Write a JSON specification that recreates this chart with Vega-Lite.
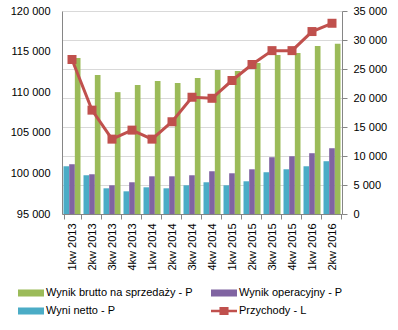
{
  "$schema": "https://vega.github.io/schema/vega-lite/v6.json",
  "width": 280,
  "height": 203,
  "autosize": {"type": "none"},
  "padding": {"left": 62, "top": 11, "right": 56, "bottom": 116},
  "background": "white",
  "config": {
    "font": "Liberation Sans",
    "view": {"stroke": null},
    "axis": {"labelFont": "Liberation Sans", "labelFontSize": 11, "labelColor": "#000000", "domainColor": "#868686", "tickColor": "#868686", "titleFontSize": 11}
  },
  "data": {
    "values": [
      {"q": "1kw 2013", "s": "Wyni netto - P", "v": 8230},
      {"q": "1kw 2013", "s": "Wynik operacyjny - P", "v": 8580},
      {"q": "1kw 2013", "s": "Wynik brutto na sprzedaży - P", "v": 26880},
      {"q": "1kw 2013", "s": "Przychody - L", "v": 114030},
      {"q": "2kw 2013", "s": "Wyni netto - P", "v": 6680},
      {"q": "2kw 2013", "s": "Wynik operacyjny - P", "v": 6850},
      {"q": "2kw 2013", "s": "Wynik brutto na sprzedaży - P", "v": 23950},
      {"q": "2kw 2013", "s": "Przychody - L", "v": 107790},
      {"q": "3kw 2013", "s": "Wyni netto - P", "v": 4430},
      {"q": "3kw 2013", "s": "Wynik operacyjny - P", "v": 4950},
      {"q": "3kw 2013", "s": "Wynik brutto na sprzedaży - P", "v": 21010},
      {"q": "3kw 2013", "s": "Przychody - L", "v": 104220},
      {"q": "4kw 2013", "s": "Wyni netto - P", "v": 3910},
      {"q": "4kw 2013", "s": "Wynik operacyjny - P", "v": 5470},
      {"q": "4kw 2013", "s": "Wynik brutto na sprzedaży - P", "v": 22220},
      {"q": "4kw 2013", "s": "Przychody - L", "v": 105330},
      {"q": "1kw 2014", "s": "Wyni netto - P", "v": 4600},
      {"q": "1kw 2014", "s": "Wynik operacyjny - P", "v": 6500},
      {"q": "1kw 2014", "s": "Wynik brutto na sprzedaży - P", "v": 22910},
      {"q": "1kw 2014", "s": "Przychody - L", "v": 104220},
      {"q": "2kw 2014", "s": "Wyni netto - P", "v": 4430},
      {"q": "2kw 2014", "s": "Wynik operacyjny - P", "v": 6500},
      {"q": "2kw 2014", "s": "Wynik brutto na sprzedaży - P", "v": 22570},
      {"q": "2kw 2014", "s": "Przychody - L", "v": 106360},
      {"q": "3kw 2014", "s": "Wyni netto - P", "v": 4950},
      {"q": "3kw 2014", "s": "Wynik operacyjny - P", "v": 6680},
      {"q": "3kw 2014", "s": "Wynik brutto na sprzedaży - P", "v": 23430},
      {"q": "3kw 2014", "s": "Przychody - L", "v": 109380},
      {"q": "4kw 2014", "s": "Wyni netto - P", "v": 5470},
      {"q": "4kw 2014", "s": "Wynik operacyjny - P", "v": 7370},
      {"q": "4kw 2014", "s": "Wynik brutto na sprzedaży - P", "v": 24810},
      {"q": "4kw 2014", "s": "Przychody - L", "v": 109250},
      {"q": "1kw 2015", "s": "Wyni netto - P", "v": 4950},
      {"q": "1kw 2015", "s": "Wynik operacyjny - P", "v": 7020},
      {"q": "1kw 2015", "s": "Wynik brutto na sprzedaży - P", "v": 24640},
      {"q": "1kw 2015", "s": "Przychody - L", "v": 111440},
      {"q": "2kw 2015", "s": "Wyni netto - P", "v": 5640},
      {"q": "2kw 2015", "s": "Wynik operacyjny - P", "v": 7710},
      {"q": "2kw 2015", "s": "Wynik brutto na sprzedaży - P", "v": 26020},
      {"q": "2kw 2015", "s": "Przychody - L", "v": 113410},
      {"q": "3kw 2015", "s": "Wyni netto - P", "v": 7200},
      {"q": "3kw 2015", "s": "Wynik operacyjny - P", "v": 9790},
      {"q": "3kw 2015", "s": "Wynik brutto na sprzedaży - P", "v": 27400},
      {"q": "3kw 2015", "s": "Przychody - L", "v": 115120},
      {"q": "4kw 2015", "s": "Wyni netto - P", "v": 7710},
      {"q": "4kw 2015", "s": "Wynik operacyjny - P", "v": 9960},
      {"q": "4kw 2015", "s": "Wynik brutto na sprzedaży - P", "v": 27750},
      {"q": "4kw 2015", "s": "Przychody - L", "v": 115120},
      {"q": "1kw 2016", "s": "Wyni netto - P", "v": 8230},
      {"q": "1kw 2016", "s": "Wynik operacyjny - P", "v": 10480},
      {"q": "1kw 2016", "s": "Wynik brutto na sprzedaży - P", "v": 28960},
      {"q": "1kw 2016", "s": "Przychody - L", "v": 117470},
      {"q": "2kw 2016", "s": "Wyni netto - P", "v": 9100},
      {"q": "2kw 2016", "s": "Wynik operacyjny - P", "v": 11340},
      {"q": "2kw 2016", "s": "Wynik brutto na sprzedaży - P", "v": 29360},
      {"q": "2kw 2016", "s": "Przychody - L", "v": 118490}
    ]
  },
  "encoding": {
    "x": {
      "field": "q", "type": "nominal", "sort": null, "title": null,
      "scale": {"paddingInner": 0.15, "paddingOuter": 0.075},
      "axis": {"labelAngle": -90, "tickBand": "extent", "tickSize": 5, "labelPadding": 4, "domainColor": "#868686"}
    }
  },
  "layer": [
    {
      "transform": [{"filter": "datum.s !== 'Przychody - L'"}],
      "mark": {"type": "bar"},
      "encoding": {
        "xOffset": {"field": "s", "type": "nominal", "scale": {"domain": ["Wyni netto - P", "Wynik operacyjny - P", "Wynik brutto na sprzedaży - P"], "paddingInner": 0, "paddingOuter": 0}},
        "y": {
          "field": "v", "type": "quantitative", "title": null,
          "scale": {"domain": [0, 35000], "nice": false},
          "axis": {"orient": "right", "values": [0, 5000, 10000, 15000, 20000, 25000, 30000, 35000], "labelExpr": "replace(format(datum.value, ','), ',', ' ')", "grid": true, "gridColor": "#D9D9D9", "tickSize": 5, "labelPadding": 6}
        },
        "color": {
          "field": "s", "type": "nominal",
          "scale": {"domain": ["Wynik brutto na sprzedaży - P", "Wynik operacyjny - P", "Wyni netto - P", "Przychody - L"], "range": ["#9BBB59", "#8064A2", "#4BACC6", "#C0504D"]},
          "legend": {
            "orient": "none", "legendX": -44, "legendY": 269, "direction": "horizontal", "columns": 2, "title": null,
            "labelFontSize": 11, "labelFont": "Liberation Sans", "labelColor": "#000000", "labelOffset": 2,
            "symbolSize": 676, "columnPadding": 18, "rowPadding": -7,
            "encode": {
              "symbols": {"update": {
                "shape": {"signal": "datum.value === 'Przychody - L' ? 'M-1,-0.1H1V0.1H-1Z M-0.35,-0.3H0.35V0.3H-0.35Z' : 'M-1,-0.27H1V0.27H-1Z'"},
                "fill": {"scale": "color", "field": "value"},
                "stroke": {"value": "transparent"},
                "strokeWidth": {"value": 0},
                "opacity": {"value": 1}
              }}
            }
          }
        }
      }
    },
    {
      "transform": [{"filter": "datum.s === 'Przychody - L'"}],
      "mark": {"type": "line", "strokeWidth": 3, "point": {"shape": "square", "size": 81, "filled": true, "opacity": 1}},
      "encoding": {
        "y": {
          "field": "v", "type": "quantitative", "title": null,
          "scale": {"domain": [95000, 120000], "nice": false, "zero": false},
          "axis": {"orient": "left", "values": [95000, 100000, 105000, 110000, 115000, 120000], "labelExpr": "replace(format(datum.value, ','), ',', ' ')", "grid": false, "ticks": false, "labelPadding": 12}
        },
        "color": {"field": "s", "type": "nominal"}
      }
    }
  ],
  "resolve": {"scale": {"y": "independent"}}
}
